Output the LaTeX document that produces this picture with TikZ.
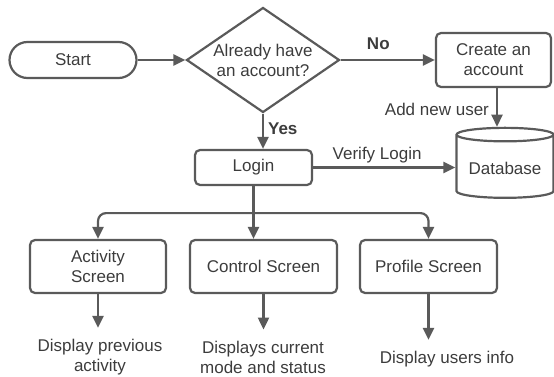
\documentclass[tikz,border=0pt]{standalone}
\usepackage{fontspec}
\setmainfont{Liberation Sans}
\usetikzlibrary{arrows.meta,shapes.geometric,positioning,calc}

\definecolor{linegray}{HTML}{5A5A5A}
\definecolor{textgray}{HTML}{3C3C3C}

\tikzset{
  box/.style={draw=linegray, line width=2.2pt, rounded corners=5pt, align=center,
    text=textgray, inner sep=2pt},
  startbox/.style={box, rounded corners=18pt, minimum width=127pt, minimum height=36pt},
  decision/.style={diamond, draw=linegray, line width=2.2pt, align=center, text=textgray,
    inner sep=0pt, aspect=1.46, minimum width=153pt, minimum height=105pt},
  store/.style={cylinder, shape border rotate=90, draw=linegray, line width=2.2pt,
    aspect=0.17, text=textgray, minimum width=97pt, minimum height=70pt},
  outtext/.style={align=center, text=textgray, inner sep=11pt},
  lbl/.style={text=textgray, inner sep=1pt},
  arr/.style={draw=linegray, line width=2.2pt, -{Triangle[length=12pt,width=11pt]}}
}

\begin{document}
\begin{tikzpicture}[x=1pt,y=-1pt,font=\fontsize{17}{20}\selectfont]
  \useasboundingbox (0,0) rectangle (554,377);

  \node[startbox] (start) at (73,60) {Start};
  \node[decision] (q) at (263,60) {Already have\\an account?};
  \node[box, minimum width=115pt, minimum height=54pt] (create) at (493.5,60) {Create an\\account};
  \node[box, minimum width=117pt, minimum height=35pt] (login) at (253.5,167.5) {Login};
  \node[store] (db) at (505,168) {Database};

  \node[box, minimum width=136pt, minimum height=53pt] (act) at (98,266.5) {Activity\\Screen};
  \node[box, minimum width=147pt, minimum height=53pt] (ctrl) at (263.5,266.5) {Control Screen};
  \node[box, minimum width=137pt, minimum height=53pt] (prof) at (428.5,266.5) {Profile Screen};

  \node[outtext] (actout) at (100,357) {Display previous\\activity};
  \node[outtext] (ctrlout) at (263,357) {Displays current\\mode and status};
  \node[outtext] (profout) at (447,359) {Display users info};

  \coordinate (addx) at (497,0);

  \draw[arr] (start) -- (q);
  \draw[arr] (q.east) -- node[lbl, pos=0.4, above=8pt, font=\fontsize{17}{20}\selectfont\bfseries] {No} (create.west);
  \draw[arr] (q.south) -- node[lbl, right=3pt, pos=0.42, font=\fontsize{17}{20}\selectfont\bfseries] {Yes} (q.south |- login.north);
  \draw[arr] (create.south -| addx) -- node[lbl, left=6pt, pos=0.55] {Add new user} (addx |- db.north);
  \draw[arr] (login.east) -- node[lbl, above=2pt, pos=0.45] {Verify Login} (login.east -| db.west);

  \coordinate (split) at ($(login.south)+(0,27)$);
  \draw[draw=linegray, line width=2.2pt] (login.south) -- (split);
  \draw[arr] (split) -- (login.south |- ctrl.north);
  \draw[arr, rounded corners=8pt] (split) -| (act.north);
  \draw[arr, rounded corners=8pt] (split) -| (prof.north);

  \draw[arr] (act.south) -- (act.south |- actout.north);
  \draw[arr] (ctrl.south) -- (ctrl.south |- ctrlout.north);
  \draw[arr] (prof.south) -- (prof.south |- profout.north);
\end{tikzpicture}
\end{document}
